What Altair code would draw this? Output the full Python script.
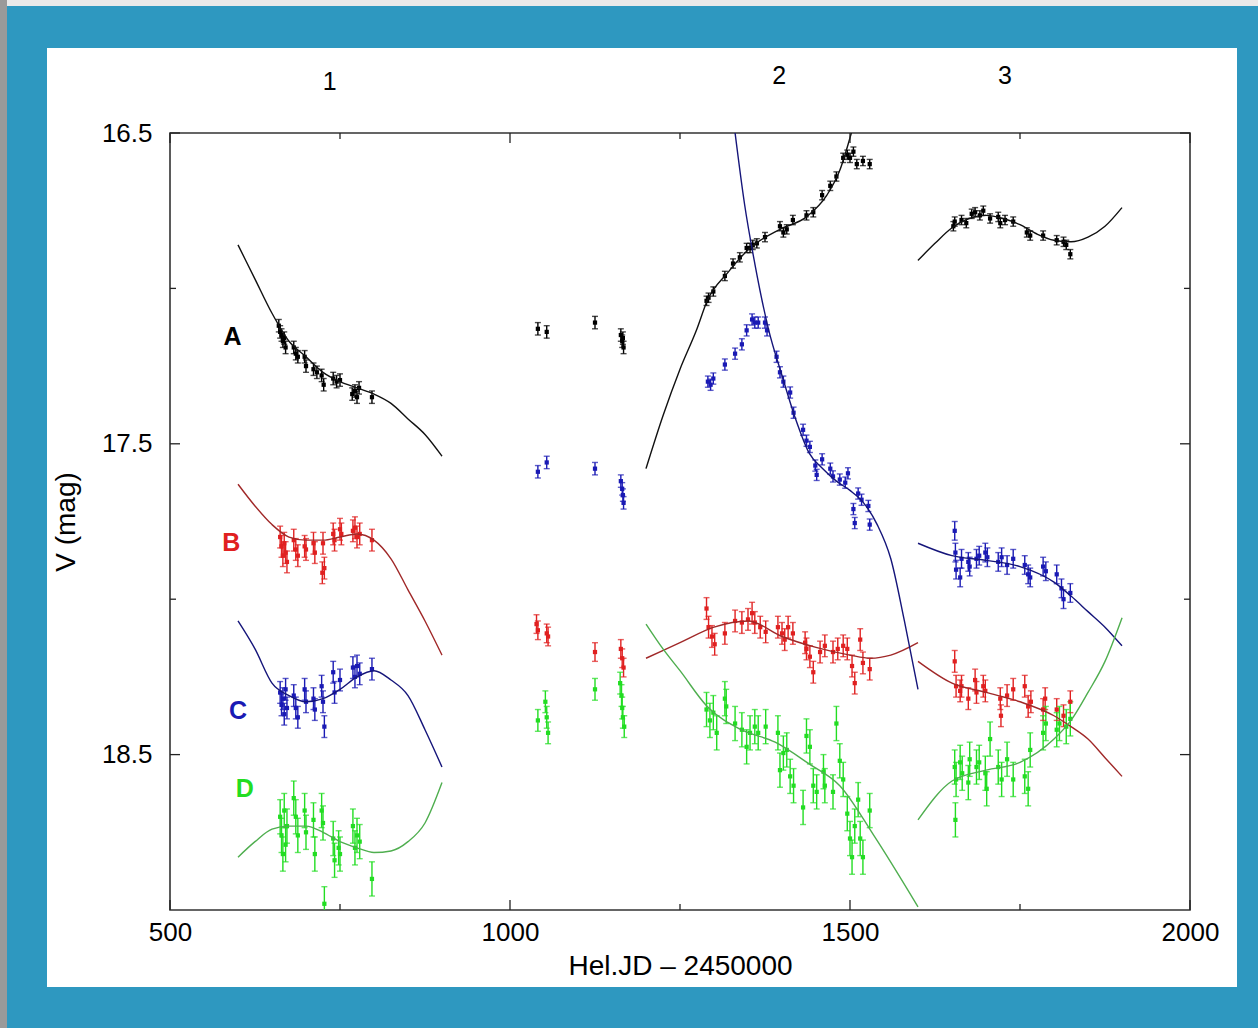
import altair as alt
import pandas as pd

# ---------------- data ----------------
BANDS = ["A", "B", "C", "D"]
POINT_COLORS = ["#000000", "#e02020", "#1a1ab4", "#22dd22"]
CURVE_COLORS = {"A": "#111111", "B": "#a02828", "C": "#15157a", "D": "#4fae4f"}

# observations: JD-2450000, V mag
A1_JD = [660, 662, 664, 666, 668, 670, 682, 685, 688, 698, 700, 711, 716, 723, 726, 740, 745, 750, 768, 772, 775, 778, 797]
A1_MAG = [17.12, 17.14, 17.15, 17.17, 17.16, 17.19, 17.19, 17.21, 17.22, 17.22, 17.25, 17.26, 17.27, 17.28, 17.31, 17.29, 17.30, 17.295, 17.34, 17.33, 17.35, 17.32, 17.35]
AM_JD = [1041, 1054, 1125, 1163, 1165, 1166, 1167]
AM_MAG = [17.13, 17.14, 17.11, 17.15, 17.17, 17.16, 17.19]
A2_JD = [1289, 1292, 1299, 1316, 1328, 1338, 1348, 1353, 1357, 1363, 1375, 1397, 1402, 1407, 1416, 1436, 1446, 1459, 1471, 1480, 1490, 1496, 1500, 1505, 1510, 1519, 1529]
A2_MAG = [17.04, 17.03, 17.01, 16.96, 16.92, 16.90, 16.87, 16.87, 16.86, 16.855, 16.835, 16.80, 16.82, 16.81, 16.78, 16.765, 16.755, 16.70, 16.67, 16.64, 16.58, 16.57, 16.58, 16.56, 16.60, 16.59, 16.60]
A3_JD = [1652, 1654, 1664, 1671, 1679, 1684, 1691, 1696, 1706, 1718, 1721, 1728, 1740, 1760, 1765, 1784, 1804, 1814, 1818, 1824]
A3_MAG = [16.80, 16.785, 16.78, 16.79, 16.76, 16.755, 16.765, 16.75, 16.775, 16.77, 16.79, 16.78, 16.785, 16.82, 16.83, 16.83, 16.845, 16.85, 16.86, 16.89]

B1_JD = [662, 664, 666, 668, 670, 672, 682, 685, 688, 698, 700, 711, 713, 724, 725, 727, 740, 742, 750, 752, 769, 772, 775, 779, 797]
B1_MAG = [17.80, 17.83, 17.86, 17.82, 17.85, 17.88, 17.81, 17.84, 17.86, 17.83, 17.84, 17.82, 17.85, 17.915, 17.82, 17.90, 17.79, 17.81, 17.775, 17.79, 17.78, 17.77, 17.80, 17.79, 17.81]
BM_JD = [1039, 1041, 1054, 1056, 1125, 1163, 1165, 1167]
BM_MAG = [18.08, 18.10, 18.11, 18.12, 18.17, 18.16, 18.19, 18.22]
B2_JD = [1289, 1292, 1297, 1301, 1316, 1331, 1341, 1350, 1356, 1360, 1368, 1376, 1394, 1400, 1404, 1409, 1416, 1434, 1436, 1441, 1446, 1456, 1463, 1475, 1482, 1490, 1496, 1503, 1507, 1515, 1519, 1529]
B2_MAG = [18.03, 18.09, 18.12, 18.145, 18.11, 18.07, 18.075, 18.065, 18.045, 18.075, 18.09, 18.105, 18.09, 18.11, 18.13, 18.09, 18.11, 18.14, 18.16, 18.185, 18.235, 18.17, 18.15, 18.17, 18.16, 18.15, 18.16, 18.215, 18.27, 18.13, 18.205, 18.225]
B3_JD = [1654, 1656, 1662, 1664, 1674, 1684, 1686, 1696, 1699, 1721, 1722, 1731, 1740, 1757, 1762, 1766, 1784, 1787, 1804, 1814, 1824]
B3_MAG = [18.20, 18.28, 18.295, 18.28, 18.32, 18.26, 18.30, 18.28, 18.295, 18.32, 18.375, 18.31, 18.29, 18.28, 18.345, 18.33, 18.355, 18.32, 18.355, 18.375, 18.33]

C1_JD = [662, 664, 666, 668, 670, 672, 682, 685, 688, 698, 700, 711, 713, 723, 725, 727, 740, 742, 750, 769, 772, 775, 779, 797]
C1_MAG = [18.30, 18.34, 18.32, 18.37, 18.29, 18.35, 18.31, 18.35, 18.38, 18.29, 18.33, 18.32, 18.355, 18.28, 18.33, 18.41, 18.235, 18.30, 18.26, 18.22, 18.25, 18.215, 18.24, 18.225]
CM_JD = [1041, 1054, 1125, 1163, 1165, 1166, 1167]
CM_MAG = [17.59, 17.56, 17.58, 17.62, 17.645, 17.665, 17.69]
C2_JD = [1291, 1295, 1299, 1316, 1331, 1341, 1348, 1356, 1360, 1365, 1375, 1378, 1392, 1397, 1402, 1412, 1417, 1431, 1436, 1441, 1449, 1451, 1459, 1471, 1475, 1485, 1493, 1497, 1505, 1507, 1512, 1517, 1527, 1529]
C2_MAG = [17.30, 17.31, 17.29, 17.245, 17.21, 17.18, 17.135, 17.10, 17.11, 17.11, 17.11, 17.135, 17.22, 17.27, 17.30, 17.335, 17.40, 17.455, 17.49, 17.51, 17.57, 17.60, 17.55, 17.58, 17.605, 17.615, 17.625, 17.595, 17.71, 17.755, 17.66, 17.68, 17.70, 17.76]
C3_JD = [1654, 1655, 1656, 1662, 1664, 1674, 1676, 1686, 1690, 1699, 1702, 1718, 1723, 1731, 1740, 1757, 1762, 1765, 1784, 1788, 1804, 1811, 1814, 1824]
C3_MAG = [17.78, 17.85, 17.905, 17.93, 17.87, 17.88, 17.895, 17.87, 17.86, 17.85, 17.865, 17.88, 17.865, 17.89, 17.87, 17.89, 17.92, 17.93, 17.895, 17.91, 17.92, 17.965, 18.00, 17.98]

D1_JD = [662, 664, 666, 668, 670, 672, 682, 685, 688, 698, 700, 711, 713, 723, 725, 727, 740, 742, 748, 750, 769, 772, 775, 779, 797]
D1_MAG = [18.70, 18.76, 18.82, 18.68, 18.79, 18.73, 18.64, 18.70, 18.76, 18.68, 18.75, 18.71, 18.82, 18.68, 18.72, 18.98, 18.77, 18.84, 18.80, 18.82, 18.73, 18.80, 18.76, 18.78, 18.90]
DM_JD = [1041, 1052, 1054, 1056, 1125, 1162, 1164, 1165, 1166, 1168]
DM_MAG = [18.39, 18.33, 18.38, 18.43, 18.29, 18.27, 18.31, 18.35, 18.38, 18.41]
D2_JD = [1289, 1294, 1299, 1304, 1316, 1318, 1331, 1341, 1348, 1353, 1360, 1365, 1376, 1394, 1397, 1402, 1407, 1412, 1417, 1431, 1436, 1441, 1446, 1451, 1461, 1463, 1475, 1480, 1485, 1490, 1496, 1500, 1503, 1507, 1512, 1515, 1519, 1529]
D2_MAG = [18.355, 18.39, 18.365, 18.43, 18.32, 18.345, 18.40, 18.42, 18.475, 18.43, 18.41, 18.43, 18.41, 18.43, 18.55, 18.495, 18.485, 18.57, 18.60, 18.67, 18.44, 18.475, 18.60, 18.62, 18.555, 18.60, 18.62, 18.40, 18.52, 18.58, 18.69, 18.77, 18.83, 18.73, 18.645, 18.77, 18.83, 18.68]
D3_JD = [1654, 1655, 1656, 1662, 1665, 1674, 1676, 1686, 1690, 1699, 1701, 1706, 1718, 1723, 1731, 1740, 1757, 1762, 1765, 1784, 1788, 1804, 1808, 1818, 1824]
D3_MAG = [18.54, 18.71, 18.58, 18.525, 18.56, 18.59, 18.515, 18.54, 18.525, 18.56, 18.61, 18.45, 18.54, 18.58, 18.515, 18.58, 18.57, 18.61, 18.485, 18.43, 18.40, 18.42, 18.40, 18.41, 18.385]

# typical error per band and season
ERR = {
    "A": [0.02, 0.02, 0.015, 0.015],
    "B": [0.035, 0.03, 0.035, 0.035],
    "C": [0.035, 0.02, 0.018, 0.03],
    "D": [0.055, 0.035, 0.055, 0.055],
}

# fitted curves
CURVE_S1_JD = [600, 625, 650, 675, 700, 725, 750, 775, 800, 825, 850, 875, 900]
CURVE_A1 = [16.86, 16.97, 17.08, 17.17, 17.22, 17.27, 17.30, 17.32, 17.34, 17.37, 17.42, 17.47, 17.54]
CURVE_B1 = [17.63, 17.70, 17.76, 17.80, 17.81, 17.81, 17.80, 17.79, 17.81, 17.87, 17.97, 18.07, 18.18]
CURVE_C1 = [18.07, 18.16, 18.27, 18.31, 18.33, 18.32, 18.29, 18.25, 18.23, 18.26, 18.31, 18.42, 18.54]
CURVE_D1 = [18.83, 18.78, 18.74, 18.73, 18.73, 18.75, 18.78, 18.80, 18.815, 18.81, 18.78, 18.72, 18.59]

CURVE_A2_JD = [1200, 1225, 1250, 1275, 1290, 1320, 1353, 1397, 1436, 1466, 1485, 1502]
CURVE_A2 = [17.58, 17.41, 17.26, 17.13, 17.04, 16.95, 16.87, 16.81, 16.77, 16.70, 16.62, 16.50]
CURVE_B2_JD = [1200, 1250, 1300, 1350, 1400, 1450, 1500, 1530, 1560, 1600]
CURVE_B2 = [18.19, 18.14, 18.09, 18.07, 18.12, 18.155, 18.18, 18.19, 18.18, 18.14]
CURVE_C2_JD = [1331, 1345, 1360, 1380, 1400, 1420, 1440, 1460, 1480, 1500, 1520, 1540, 1560, 1580, 1600]
CURVE_C2 = [16.50, 16.73, 16.92, 17.13, 17.28, 17.42, 17.53, 17.58, 17.62, 17.65, 17.69, 17.76, 17.87, 18.07, 18.29]
CURVE_D2_JD = [1200, 1225, 1250, 1290, 1340, 1390, 1440, 1485, 1535, 1600]
CURVE_D2 = [18.08, 18.16, 18.23, 18.345, 18.42, 18.46, 18.53, 18.60, 18.76, 18.99]

CURVE_A3_JD = [1600, 1625, 1650, 1675, 1700, 1725, 1750, 1775, 1800, 1825, 1850, 1875, 1900]
CURVE_A3 = [16.91, 16.855, 16.805, 16.775, 16.765, 16.775, 16.795, 16.825, 16.845, 16.85, 16.835, 16.80, 16.74]
CURVE_S3_JD = [1600, 1650, 1700, 1750, 1800, 1825, 1850, 1875, 1900]
CURVE_B3 = [18.20, 18.27, 18.30, 18.33, 18.375, 18.41, 18.45, 18.51, 18.57]
CURVE_C3 = [17.82, 17.86, 17.875, 17.895, 17.945, 17.99, 18.04, 18.09, 18.15]
CURVE_D3 = [18.71, 18.585, 18.55, 18.525, 18.45, 18.39, 18.30, 18.20, 18.06]

X_TICKS_MAJOR = [500, 1000, 1500, 2000]
X_TICKS_MINOR = [750, 1250, 1750]
Y_TICKS_MAJOR = [16.5, 17.5, 18.5]
Y_TICKS_MINOR = [17.0, 18.0]

BAND_LABELS = ["A", "B", "C", "D"]
BAND_LABEL_JD = [592, 590, 600, 610]
BAND_LABEL_MAG = [17.156, 17.82, 18.36, 18.61]
SEASON_LABELS = ["1", "2", "3"]
SEASON_LABEL_JD = [735, 1396, 1728]
SEASON_LABEL_MAG = [16.335, 16.315, 16.315]

# ---------------- build tables ----------------
obs = {
    "A": [(A1_JD, A1_MAG), (AM_JD, AM_MAG), (A2_JD, A2_MAG), (A3_JD, A3_MAG)],
    "B": [(B1_JD, B1_MAG), (BM_JD, BM_MAG), (B2_JD, B2_MAG), (B3_JD, B3_MAG)],
    "C": [(C1_JD, C1_MAG), (CM_JD, CM_MAG), (C2_JD, C2_MAG), (C3_JD, C3_MAG)],
    "D": [(D1_JD, D1_MAG), (DM_JD, DM_MAG), (D2_JD, D2_MAG), (D3_JD, D3_MAG)],
}
rows = []
for band, seasons in obs.items():
    for i, (jds, mags) in enumerate(seasons):
        for j, m in zip(jds, mags):
            rows.append({"jd": j, "mag": m, "err": ERR[band][i], "band": band})
pts = pd.DataFrame(rows)

curves = {
    "A": [(CURVE_S1_JD, CURVE_A1), (CURVE_A2_JD, CURVE_A2), (CURVE_A3_JD, CURVE_A3)],
    "B": [(CURVE_S1_JD, CURVE_B1), (CURVE_B2_JD, CURVE_B2), (CURVE_S3_JD, CURVE_B3)],
    "C": [(CURVE_S1_JD, CURVE_C1), (CURVE_C2_JD, CURVE_C2), (CURVE_S3_JD, CURVE_C3)],
    "D": [(CURVE_S1_JD, CURVE_D1), (CURVE_D2_JD, CURVE_D2), (CURVE_S3_JD, CURVE_D3)],
}
crow = []
for band, segs in curves.items():
    for s, (jds, mags) in enumerate(segs):
        for k, (j, m) in enumerate(zip(jds, mags)):
            crow.append({"jd": j, "mag": m, "band": band, "seg": f"{band}{s}", "order": k})
cdf = pd.DataFrame(crow)

W, H = 1020, 777
FONT = "Liberation Sans"

xscale = alt.Scale(domain=[500, 2000], nice=False, zero=False)
yscale = alt.Scale(domain=[16.5, 19.0], reverse=True, nice=False, zero=False)
color = alt.Color("band:N", scale=alt.Scale(domain=BANDS, range=POINT_COLORS), legend=None)

xax = alt.Axis(values=X_TICKS_MAJOR, format="d", ticks=False, domain=False, grid=False,
               labelFontSize=26, labelFont=FONT, labelPadding=9, labelFlush=False, labelColor="#000",
               title="Hel.JD – 2450000", titleFont=FONT, titleFontSize=28, titleFontWeight="normal",
               titlePadding=7, titleColor="#000", zindex=1)
yax = alt.Axis(values=Y_TICKS_MAJOR, format=".1f", ticks=False, domain=False, grid=False,
               labelFontSize=26, labelFont=FONT, labelPadding=18, labelFlush=False, labelColor="#000",
               title="V (mag)", titleFont=FONT, titleFontSize=28, titleFontWeight="normal",
               titlePadding=21, titleColor="#000", zindex=1)

one = pd.DataFrame({"k": [0]})

# frame decoration around the white page (does not overlap the axes)
def band_rect(col, x0, x1, y0, y1):
    return alt.Chart(one).mark_rect(color=col, clip=False).encode(
        x=alt.value(x0), x2=alt.value(x1), y=alt.value(y0), y2=alt.value(y1))

deco = [
    band_rect("#e9e9e9", -170, 1088, -133, -127),
    band_rect("#9a9a9a", -170, -163, -133, 895),
    band_rect("#2e98c0", -163, 1088, -127, -85),
    band_rect("#2e98c0", -163, 1088, 854, 895),
    band_rect("#2e98c0", -163, -123, -85, 854),
    band_rect("#2e98c0", 1067, 1088, -85, 854),
]

base = alt.Chart(pts).transform_calculate(lo="datum.mag - datum.err", hi="datum.mag + datum.err")

bars = base.mark_rule(strokeWidth=1.4, clip=True).encode(
    x=alt.X("jd:Q", scale=xscale, axis=xax),
    y=alt.Y("lo:Q", scale=yscale, axis=yax),
    y2="hi:Q",
    color=color,
)
cap_lo = base.mark_tick(orient="horizontal", size=6, thickness=1.4, clip=True).encode(
    x="jd:Q", y="lo:Q", color=color)
cap_hi = base.mark_tick(orient="horizontal", size=6, thickness=1.4, clip=True).encode(
    x="jd:Q", y="hi:Q", color=color)
dots = base.mark_square(size=18, opacity=1, clip=True).encode(
    x="jd:Q", y="mag:Q", color=color)

curve_layers = []
for band in BANDS:
    curve_layers.append(
        alt.Chart(cdf).transform_filter(alt.datum.band == band)
        .mark_line(strokeWidth=1.4, interpolate="monotone", clip=True)
        .encode(x="jd:Q", y="mag:Q", detail="seg:N", order="order:Q",
                color=alt.value(CURVE_COLORS[band]))
    )

# frame ticks (inward, on all four sides)
xt_major = pd.DataFrame({"v": X_TICKS_MAJOR})
xt_minor = pd.DataFrame({"v": X_TICKS_MINOR})
yt_major = pd.DataFrame({"v": Y_TICKS_MAJOR})
yt_minor = pd.DataFrame({"v": Y_TICKS_MINOR})
tick_layers = []
for df, ln in [(xt_major, 10), (xt_minor, 6)]:
    tick_layers.append(alt.Chart(df).mark_rule(color="#222", strokeWidth=1.3).encode(
        x="v:Q", y=alt.value(H), y2=alt.value(H - ln)))
    tick_layers.append(alt.Chart(df).mark_rule(color="#222", strokeWidth=1.3).encode(
        x="v:Q", y=alt.value(0), y2=alt.value(ln)))
for df, ln in [(yt_major, 10), (yt_minor, 6)]:
    tick_layers.append(alt.Chart(df).mark_rule(color="#222", strokeWidth=1.3).encode(
        y="v:Q", x=alt.value(0), x2=alt.value(ln)))
    tick_layers.append(alt.Chart(df).mark_rule(color="#222", strokeWidth=1.3).encode(
        y="v:Q", x=alt.value(W), x2=alt.value(W - ln)))

# labels
lab_layers = []
for t, j, m, c in zip(BAND_LABELS, BAND_LABEL_JD, BAND_LABEL_MAG, POINT_COLORS):
    lab_layers.append(alt.Chart(pd.DataFrame({"jd": [j], "mag": [m], "t": [t]}))
                      .mark_text(font=FONT, fontSize=25, fontWeight="bold", color=c)
                      .encode(x="jd:Q", y="mag:Q", text="t:N"))
season_df = pd.DataFrame({"jd": SEASON_LABEL_JD, "mag": SEASON_LABEL_MAG, "t": SEASON_LABELS})
lab_layers.append(alt.Chart(season_df).mark_text(font=FONT, fontSize=25, color="#000", clip=False)
                  .encode(x="jd:Q", y="mag:Q", text="t:N"))

chart = alt.layer(
    *deco, bars, cap_lo, cap_hi, dots, *curve_layers, *tick_layers, *lab_layers
).properties(
    width=W, height=H,
    autosize=alt.AutoSizeParams(type="none"),
    padding={"left": 170, "top": 133, "right": 68, "bottom": 118},
    background="#ffffff",
).configure_view(stroke="#333333", strokeWidth=1.6)

chart.save("out.html", embed_options={"renderer": "svg", "actions": False})
